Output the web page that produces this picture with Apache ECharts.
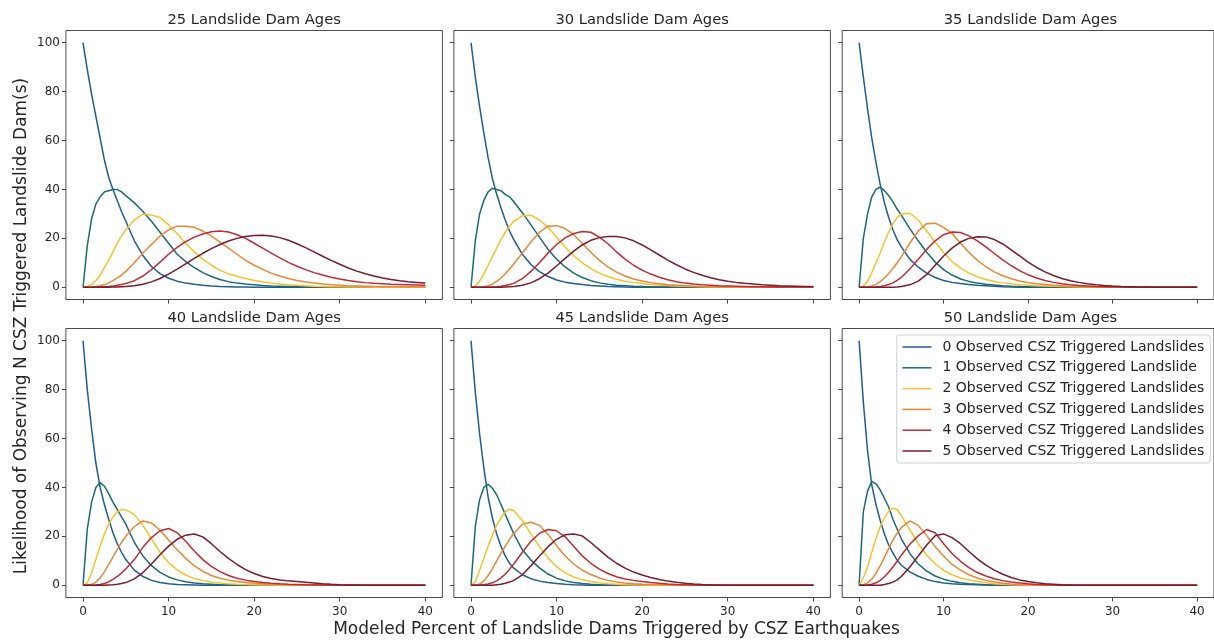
<!DOCTYPE html>
<html>
<head>
<meta charset="utf-8">
<title>Likelihood of observing N CSZ triggered landslide dams</title>
<script src="https://cdn.jsdelivr.net/npm/echarts@6/dist/echarts.min.js"></script>
<style>
  html, body { margin: 0; padding: 0; background: #fff; }
  #chart { width: 1214px; height: 640px; }
</style>
</head>
<body>
<div id="chart"></div>
<script>
// modeled percent of dams triggered (x) -- finer near 0 where the curves are steep
const pct = [0, 0.5, 1, 1.5, 2, 2.5, 3, 3.5, 4, 4.5, 5,
  6, 7, 8, 9, 10, 11, 12, 13, 14, 15, 16, 17, 18, 19, 20,
  21, 22, 23, 24, 25, 26, 27, 28, 29, 30, 31, 32, 33, 34, 35, 36, 37, 38, 39, 40];

const ages = [25, 30, 35, 40, 45, 50];
const curveNames = [
  '0 Observed CSZ Triggered Landslides',
  '1 Observed CSZ Triggered Landslide',
  '2 Observed CSZ Triggered Landslides',
  '3 Observed CSZ Triggered Landslides',
  '4 Observed CSZ Triggered Landslides',
  '5 Observed CSZ Triggered Landslides'
];
const curveColors = ['#1f5b97', '#1b6a78', '#f8c22e', '#ee8535', '#c32a33', '#7c1a2e'];
const xTicks = [0, 10, 20, 30, 40];
const yTicks = [0, 20, 40, 60, 80, 100];

// likelihood (%) for 0..5 observed, one row per N
const ages25 = [
  [100, 89, 79, 70, 61, 52, 45, 40, 35.5, 31, 27, 19, 13, 8.5, 5.6, 3.7, 2.5, 1.7, 1.2, 0.8, 0.5, 0.3, 0.2, 0.1, 0.1, 0, 0, 0, 0, 0, 0, 0, 0, 0, 0, 0, 0, 0, 0, 0, 0, 0, 0, 0, 0, 0],
  [0, 17, 28, 34, 37, 39, 39.5, 40, 40, 39, 37.5, 34.5, 31, 27, 22.5, 18, 13.5, 10.5, 8, 6, 4.4, 3.2, 2.3, 1.7, 1.3, 1, 0.7, 0.5, 0.4, 0.3, 0.2, 0.1, 0.1, 0, 0, 0, 0, 0, 0, 0, 0, 0, 0, 0, 0, 0],
  [0, 0.3, 1.2, 2.8, 5, 8, 11, 14.5, 18, 21, 23.5, 27.5, 30, 29.5, 28.5, 25.5, 22, 18, 14.5, 11.5, 9, 7, 5.5, 4.5, 3.6, 2.8, 2.2, 1.7, 1.3, 1, 0.8, 0.6, 0.45, 0.35, 0.25, 0.2, 0.15, 0.1, 0.1, 0, 0, 0, 0, 0, 0, 0],
  [0, 0, 0.1, 0.3, 0.6, 1.1, 1.8, 2.7, 3.8, 5, 6.5, 10, 14, 17.5, 21, 23.5, 25, 25, 24.5, 23, 21, 18.5, 16, 13.5, 11, 9, 7.3, 5.8, 4.6, 3.6, 2.8, 2.2, 1.7, 1.3, 1, 0.8, 0.6, 0.5, 0.4, 0.3, 0.25, 0.2, 0.2, 0.15, 0.1, 0.1],
  [0, 0, 0, 0, 0.1, 0.2, 0.3, 0.5, 0.8, 1.1, 1.5, 2.7, 4.6, 7.2, 10.3, 13.5, 16.3, 18.7, 20.5, 21.8, 22.7, 23, 22.6, 21.5, 20, 18, 16, 14, 12, 10.2, 8.6, 7.2, 6, 5, 4.1, 3.4, 2.8, 2.3, 1.9, 1.6, 1.4, 1.2, 1.1, 1, 0.9, 0.8],
  [0, 0, 0, 0, 0, 0, 0, 0.1, 0.1, 0.2, 0.3, 0.6, 1.2, 2.2, 3.6, 5.4, 7.4, 9.6, 11.8, 13.9, 15.8, 17.5, 18.9, 20, 20.8, 21.2, 21.3, 21, 20.3, 19.2, 17.8, 16.2, 14.5, 12.7, 11, 9.4, 7.9, 6.6, 5.5, 4.6, 3.8, 3.2, 2.7, 2.3, 2, 1.7]
];
const ages30 = [
  [100, 86, 74, 63, 53, 44.5, 38, 32.5, 27.5, 23, 19.5, 13.5, 9.3, 6.4, 4.4, 3, 2.1, 1.5, 1.1, 0.7, 0.5, 0.3, 0.2, 0.1, 0, 0, 0, 0, 0, 0, 0, 0, 0, 0, 0, 0, 0, 0, 0, 0, 0, 0, 0, 0, 0, 0],
  [0, 19, 30, 35.5, 39, 40.5, 40, 39.5, 38, 37, 35, 30.5, 25.5, 20.5, 15.5, 11.5, 8.3, 5.8, 4, 2.7, 1.8, 1.2, 0.8, 0.6, 0.4, 0.3, 0.2, 0.1, 0.1, 0, 0, 0, 0, 0, 0, 0, 0, 0, 0, 0, 0, 0, 0, 0, 0, 0],
  [0, 0.5, 2.5, 5.5, 9, 12.5, 16, 19.5, 22.5, 25, 27, 29.2, 29.5, 27.5, 24.5, 20.5, 16.5, 13, 10, 7.6, 5.8, 4.4, 3.3, 2.5, 1.9, 1.5, 1.1, 0.9, 0.7, 0.5, 0.4, 0.3, 0.2, 0.15, 0.1, 0.1, 0, 0, 0, 0, 0, 0, 0, 0, 0, 0],
  [0, 0, 0, 0.2, 0.6, 1.3, 2.4, 3.8, 5.5, 7.4, 9.5, 14, 18.5, 22.5, 25, 25.2, 24, 21.5, 18, 14.3, 11, 8.3, 6.2, 4.6, 3.4, 2.6, 1.9, 1.4, 1, 0.8, 0.6, 0.4, 0.3, 0.25, 0.2, 0.15, 0.1, 0.1, 0, 0, 0, 0, 0, 0, 0, 0],
  [0, 0, 0, 0, 0, 0.1, 0.2, 0.4, 0.7, 1.1, 1.6, 3.5, 6.5, 10, 14, 17.5, 20.2, 22, 22.8, 22.5, 20.5, 17.8, 14.5, 11.5, 9, 7, 5.4, 4.1, 3.1, 2.3, 1.7, 1.3, 1, 0.8, 0.6, 0.5, 0.4, 0.3, 0.2, 0.2, 0.1, 0.1, 0.1, 0.1, 0.1, 0.1],
  [0, 0, 0, 0, 0, 0, 0, 0, 0.1, 0.2, 0.3, 0.8, 1.8, 3.5, 5.8, 8.7, 11.8, 14.8, 17.3, 19.2, 20.3, 20.8, 20.8, 20.2, 19, 17.3, 15.3, 13.2, 11.1, 9.2, 7.5, 6.1, 4.9, 3.9, 3.1, 2.5, 2, 1.6, 1.3, 1, 0.8, 0.6, 0.5, 0.4, 0.3, 0.3]
];
const ages35 = [
  [100, 86, 73, 61, 51, 42, 34.5, 28.5, 23.5, 19.5, 16.5, 11.5, 8.2, 5.8, 4, 2.8, 2, 1.5, 1.1, 0.8, 0.6, 0.4, 0.2, 0.1, 0, 0, 0, 0, 0, 0, 0, 0, 0, 0, 0, 0, 0, 0, 0, 0, 0, 0, 0, 0, 0, 0],
  [0, 20, 30, 37, 40, 41, 39.5, 37.5, 35, 32, 29.5, 24, 19, 14.3, 10.3, 7.2, 5, 3.4, 2.4, 1.7, 1.2, 0.9, 0.6, 0.4, 0.3, 0.2, 0.1, 0.1, 0, 0, 0, 0, 0, 0, 0, 0, 0, 0, 0, 0, 0, 0, 0, 0, 0, 0],
  [0, 0.5, 2.5, 6, 10, 14, 18.5, 22.5, 26, 28.5, 30, 30.3, 27.5, 23, 18.5, 14.2, 10.5, 7.8, 5.8, 4.3, 3.2, 2.4, 1.8, 1.4, 1, 0.8, 0.6, 0.5, 0.4, 0.3, 0.2, 0.15, 0.1, 0.1, 0, 0, 0, 0, 0, 0, 0, 0, 0, 0, 0, 0],
  [0, 0, 0.1, 0.5, 1.2, 2.3, 3.8, 5.6, 7.7, 10, 12.5, 18, 23, 26, 26.2, 24.5, 22, 18, 14.3, 11, 8.4, 6.3, 4.7, 3.5, 2.6, 1.9, 1.4, 1.1, 0.8, 0.6, 0.4, 0.3, 0.2, 0.15, 0.1, 0.1, 0, 0, 0, 0, 0, 0, 0, 0, 0, 0],
  [0, 0, 0, 0, 0.1, 0.3, 0.6, 1.1, 1.8, 2.8, 4, 7.5, 11.5, 15.5, 19, 21.5, 22.6, 22.4, 21, 19, 16.5, 13.8, 11.2, 8.8, 6.8, 5.1, 3.8, 2.8, 2, 1.4, 1, 0.7, 0.5, 0.3, 0.2, 0.1, 0.1, 0, 0, 0, 0, 0, 0, 0, 0, 0],
  [0, 0, 0, 0, 0, 0, 0, 0, 0, 0.1, 0.3, 1, 2.5, 5.2, 9, 12.8, 16, 18.5, 20, 20.7, 20.6, 19.5, 17.7, 15.3, 12.8, 10.3, 8.1, 6.3, 4.8, 3.6, 2.7, 2, 1.4, 1, 0.7, 0.5, 0.35, 0.25, 0.15, 0.1, 0, 0, 0, 0, 0, 0]
];
const ages40 = [
  [100, 80, 64, 50, 40, 33, 27, 21.5, 17, 13.5, 10.5, 6.2, 3.6, 2, 1.1, 0.6, 0.3, 0.2, 0.1, 0, 0, 0, 0, 0, 0, 0, 0, 0, 0, 0, 0, 0, 0, 0, 0, 0, 0, 0, 0, 0, 0, 0, 0, 0, 0, 0],
  [0, 23, 34, 40, 42, 40.5, 37.5, 34, 31, 28, 25, 17.5, 12, 8, 5.3, 3.4, 2.2, 1.4, 0.9, 0.6, 0.4, 0.2, 0.1, 0, 0, 0, 0, 0, 0, 0, 0, 0, 0, 0, 0, 0, 0, 0, 0, 0, 0, 0, 0, 0, 0, 0],
  [0, 1, 5, 10.5, 16, 21, 25, 28, 30, 31, 30.8, 29, 24.5, 19, 13.5, 9.3, 6.3, 4.2, 2.8, 1.9, 1.3, 0.9, 0.6, 0.4, 0.3, 0.2, 0.1, 0.1, 0, 0, 0, 0, 0, 0, 0, 0, 0, 0, 0, 0, 0, 0, 0, 0, 0, 0],
  [0, 0, 0.4, 1.3, 3, 5.5, 8.5, 11.5, 14.7, 17.5, 20, 24, 26.3, 25.5, 22.5, 18.5, 14.5, 11, 8, 5.7, 4, 2.9, 2.1, 1.5, 1.1, 0.8, 0.6, 0.4, 0.3, 0.2, 0.1, 0.1, 0, 0, 0, 0, 0, 0, 0, 0, 0, 0, 0, 0, 0, 0],
  [0, 0, 0, 0.1, 0.3, 0.7, 1.4, 2.4, 3.6, 5, 6.7, 10.5, 15.5, 19.5, 22.3, 23.2, 21.5, 18, 14, 10.5, 7.7, 5.6, 4, 2.9, 2.1, 1.5, 1.1, 0.8, 0.6, 0.4, 0.3, 0.2, 0.15, 0.1, 0.1, 0, 0, 0, 0, 0, 0, 0, 0, 0, 0, 0],
  [0, 0, 0, 0, 0, 0, 0.1, 0.2, 0.4, 0.7, 1.1, 2.6, 5.2, 8.7, 12.5, 16, 18.8, 20.5, 21, 19.8, 17, 13.8, 11, 8.5, 6.4, 4.8, 3.6, 2.8, 2.2, 1.8, 1.5, 1.2, 0.9, 0.6, 0.4, 0.25, 0.15, 0.1, 0, 0, 0, 0, 0, 0, 0, 0]
];
const ages45 = [
  [100, 79, 62, 48, 36, 27.5, 21, 16, 12, 9, 7, 4.3, 2.7, 1.7, 1.1, 0.7, 0.4, 0.2, 0.1, 0, 0, 0, 0, 0, 0, 0, 0, 0, 0, 0, 0, 0, 0, 0, 0, 0, 0, 0, 0, 0, 0, 0, 0, 0, 0, 0],
  [0, 24, 35, 40, 41.3, 39.7, 37, 33, 29, 25, 21, 14.5, 10.3, 7.1, 4.6, 2.9, 1.8, 1.1, 0.7, 0.4, 0.2, 0.1, 0, 0, 0, 0, 0, 0, 0, 0, 0, 0, 0, 0, 0, 0, 0, 0, 0, 0, 0, 0, 0, 0, 0, 0],
  [0, 1.5, 6, 11, 16, 20.5, 24.5, 27.5, 30, 31.2, 30.5, 26.5, 21, 15.8, 11.2, 7.6, 5.1, 3.4, 2.3, 1.5, 1, 0.6, 0.4, 0.2, 0.1, 0.1, 0, 0, 0, 0, 0, 0, 0, 0, 0, 0, 0, 0, 0, 0, 0, 0, 0, 0, 0, 0],
  [0, 0, 0.5, 1.8, 4, 6.8, 10, 13, 16, 18.8, 21.2, 25, 25.8, 24.5, 20.8, 16.2, 12, 8.7, 6.2, 4.4, 3, 2, 1.3, 0.9, 0.6, 0.4, 0.3, 0.2, 0.1, 0.1, 0, 0, 0, 0, 0, 0, 0, 0, 0, 0, 0, 0, 0, 0, 0, 0],
  [0, 0, 0, 0.2, 0.5, 1, 1.8, 3, 4.5, 6.5, 8.7, 13.5, 18, 21.2, 22.8, 22.3, 19.8, 16, 12, 9, 6.6, 4.8, 3.5, 2.6, 2, 1.5, 1.1, 0.8, 0.55, 0.35, 0.2, 0.1, 0, 0, 0, 0, 0, 0, 0, 0, 0, 0, 0, 0, 0, 0],
  [0, 0, 0, 0, 0, 0, 0.2, 0.4, 0.8, 1.3, 2, 4.3, 8, 12, 15.8, 18.8, 20.7, 21, 20.2, 17.5, 14.5, 11.5, 9, 7, 5.4, 4.2, 3.2, 2.4, 1.7, 1.2, 0.8, 0.5, 0.3, 0.15, 0.1, 0, 0, 0, 0, 0, 0, 0, 0, 0, 0, 0]
];
const ages50 = [
  [100, 75, 55, 41, 33, 26.5, 21, 16.5, 13.2, 10.3, 8.2, 5.5, 3.7, 2.4, 1.5, 0.9, 0.6, 0.4, 0.3, 0.2, 0.1, 0, 0, 0, 0, 0, 0, 0, 0, 0, 0, 0, 0, 0, 0, 0, 0, 0, 0, 0, 0, 0, 0, 0, 0, 0],
  [0, 30, 38.5, 42.5, 41.5, 39, 35.5, 32, 27, 23, 19, 13, 8.7, 5.8, 3.8, 2.5, 1.6, 1, 0.6, 0.4, 0.2, 0.1, 0, 0, 0, 0, 0, 0, 0, 0, 0, 0, 0, 0, 0, 0, 0, 0, 0, 0, 0, 0, 0, 0, 0, 0],
  [0, 3, 7.5, 13.5, 19, 24, 27.5, 30.3, 31.5, 31, 28.5, 22.7, 17, 12.3, 8.8, 6.1, 4.3, 3, 2.2, 1.5, 1, 0.6, 0.4, 0.2, 0.1, 0, 0, 0, 0, 0, 0, 0, 0, 0, 0, 0, 0, 0, 0, 0, 0, 0, 0, 0, 0, 0],
  [0, 0.2, 1, 2.5, 5, 8, 11.5, 15, 18.5, 21.3, 23.6, 26.3, 24.5, 20.3, 15.8, 12, 8.5, 6.2, 4.3, 3, 2, 1.3, 0.8, 0.5, 0.3, 0.2, 0.1, 0, 0, 0, 0, 0, 0, 0, 0, 0, 0, 0, 0, 0, 0, 0, 0, 0, 0, 0],
  [0, 0, 0.1, 0.4, 1, 2, 3.5, 5.3, 7.5, 9.8, 12.3, 16.8, 20.2, 22.8, 21.5, 17, 13, 9.8, 7.2, 5.2, 3.8, 2.7, 1.9, 1.3, 0.9, 0.6, 0.35, 0.2, 0.1, 0, 0, 0, 0, 0, 0, 0, 0, 0, 0, 0, 0, 0, 0, 0, 0, 0],
  [0, 0, 0, 0, 0, 0, 0.3, 0.7, 1.3, 2.2, 3.6, 7.5, 12, 16.5, 20.3, 21, 19.5, 17, 13.8, 10.8, 8.2, 6.2, 4.5, 3.2, 2.2, 1.5, 1, 0.6, 0.4, 0.2, 0.1, 0, 0, 0, 0, 0, 0, 0, 0, 0, 0, 0, 0, 0, 0, 0]
];

const panels = [ages25, ages30, ages35, ages40, ages45, ages50];

const FONT = "'DejaVu Sans', sans-serif";
const INK = '#262626';
const FRAME = '#4a4a4a';

// plot frames in px (matplotlib-style 2x3 subplots, shared axes)
const colLeft = [65.9, 453.9, 842.2];
const rowTop = [30.5, 328.5];
const panelW = 376.5;
const panelH = 269;
const titleY = [20, 317.7];

const chart = echarts.init(document.getElementById('chart'));

const grids = [];
const xAxes = [];
const yAxes = [];
const series = [];
const graphics = [];

panels.forEach((rows, i) => {
  const col = i % 3;
  const row = Math.floor(i / 3);

  grids.push({
    left: colLeft[col], top: rowTop[row], width: panelW, height: panelH,
    show: true, borderColor: FRAME, borderWidth: 1, backgroundColor: 'transparent'
  });

  xAxes.push({
    type: 'value', gridIndex: i, min: -2, max: 42,
    axisLine: { show: false, onZero: false },
    splitLine: { show: false },
    axisTick: { show: true, length: 4, customValues: xTicks, lineStyle: { color: FRAME, width: 1 } },
    axisLabel: { show: row === 1, customValues: xTicks, margin: 8, fontSize: 12, color: INK, fontFamily: FONT }
  });

  yAxes.push({
    type: 'value', gridIndex: i, min: -5, max: 105,
    axisLine: { show: false, onZero: false },
    splitLine: { show: false },
    axisTick: { show: true, length: 4, customValues: yTicks, lineStyle: { color: FRAME, width: 1 } },
    axisLabel: { show: col === 0, customValues: yTicks, margin: 6, fontSize: 12, color: INK, fontFamily: FONT }
  });

  rows.forEach((vals, k) => {
    if (vals.length !== pct.length) console.error('length mismatch', ages[i], k, vals.length);
    series.push({
      name: curveNames[k],
      type: 'line',
      xAxisIndex: i,
      yAxisIndex: i,
      data: pct.map((x, j) => [x, vals[j]]),
      symbol: 'none',
      showSymbol: false,
      lineStyle: { width: 1.5, color: curveColors[k] },
      itemStyle: { color: curveColors[k] },
      silent: true
    });
  });

  graphics.push({
    type: 'text',
    x: colLeft[col] + panelW / 2,
    y: titleY[row],
    style: {
      text: ages[i] + ' Landslide Dam Ages',
      fontSize: 14.7, fontFamily: FONT, fill: INK,
      align: 'center', verticalAlign: 'middle'
    }
  });
});

graphics.push({
  type: 'text', x: 616.5, y: 630,
  style: {
    text: 'Modeled Percent of Landslide Dams Triggered by CSZ Earthquakes',
    fontSize: 17, fontFamily: FONT, fill: INK, align: 'center', verticalAlign: 'middle'
  }
});
graphics.push({
  type: 'text', x: 21.5, y: 326, rotation: Math.PI / 2,
  style: {
    text: 'Likelihood of Observing N CSZ Triggered Landslide Dam(s)',
    fontSize: 17, fontFamily: FONT, fill: INK, align: 'center', verticalAlign: 'middle'
  }
});

chart.setOption({
  animation: false,
  backgroundColor: '#ffffff',
  grid: grids,
  xAxis: xAxes,
  yAxis: yAxes,
  series: series,
  graphic: graphics,
  legend: {
    data: curveNames,
    orient: 'vertical',
    left: 896.7,
    top: 335,
    itemWidth: 29,
    itemHeight: 14,
    itemGap: 6.8,
    padding: [5, 6, 5, 5],
    backgroundColor: 'rgba(255,255,255,0.85)',
    borderColor: '#d0d0d0',
    borderWidth: 1,
    borderRadius: 3,
    selectedMode: false,
    // line-only keys, no marker dot
    itemStyle: { opacity: 0 },
    lineStyle: { width: 1.5 },
    textStyle: { fontSize: 14, lineHeight: 14, color: INK, fontFamily: FONT, padding: [0, 0, 0, 6] }
  }
});
</script>
</body>
</html>
